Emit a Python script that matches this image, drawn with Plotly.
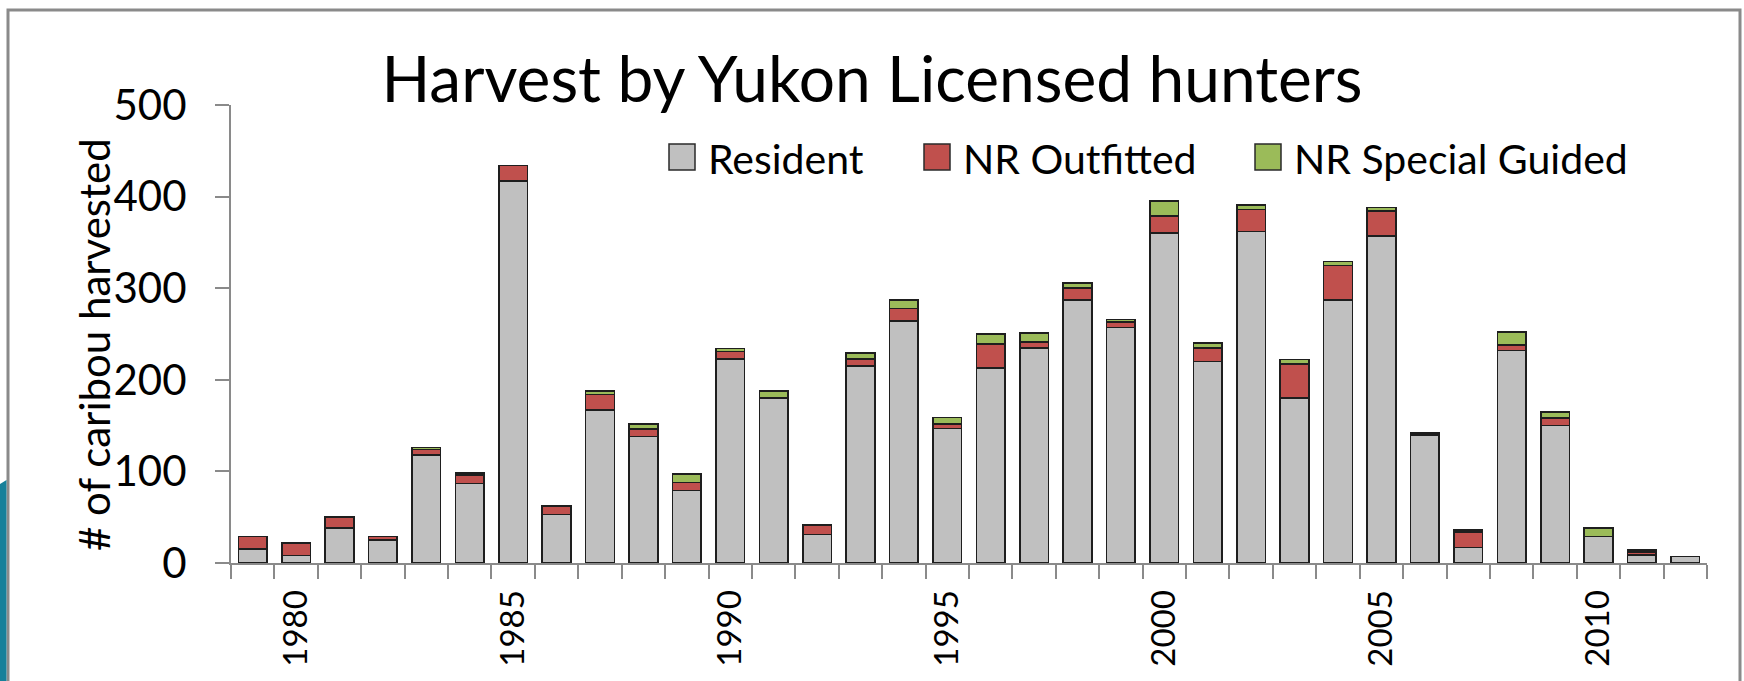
import plotly.graph_objects as go

years = list(range(1979, 2013))
resident = [15, 8, 38, 25, 118, 87, 417, 53, 167, 138, 79, 223, 180, 31, 215, 264, 147,
            213, 235, 287, 257, 360, 220, 362, 180, 287, 357, 140, 17, 232, 150, 29, 9, 7]
nr_outfitted = [14, 14, 12, 4, 6, 9, 17, 9, 17, 8, 9, 8, 0, 10, 8, 14, 5,
                26, 6, 13, 6, 19, 15, 24, 37, 38, 27, 0, 17, 6, 8, 0, 3, 0]
nr_special = [0, 0, 0, 0, 2, 2, 0, 0, 4, 6, 9, 3, 8, 1, 6, 9, 7,
              11, 10, 6, 3, 16, 5, 5, 5, 4, 4, 2, 2, 14, 7, 9, 2, 0]
series_names = ["Resident", "NR Outfitted", "NR Special Guided"]
colors = ["#C0C0C0", "#C0504D", "#9BBB59"]
x_tick_years = [1980, 1985, 1990, 1995, 2000, 2005, 2010]
y_ticks = [0, 100, 200, 300, 400, 500]

FONT = "Lato"
W, H = 1744, 681
L, R, T, B = 231, 37, 105, 118
PW, PH = W - L - R, H - T - B


def px(x):
    return (x - L) / PW


def py(y):
    return (H - B - y) / PH


fig = go.Figure()
for name, vals, col in zip(series_names, [resident, nr_outfitted, nr_special], colors):
    fig.add_trace(go.Bar(x=years, y=vals, name=name,
                         marker=dict(color=col, line=dict(color="#1e1e1e", width=1.6)),
                         showlegend=False))

# manual legend (large square keys like the original)
legend_x = [669, 924, 1255]
shapes = []
annotations = []
for name, col, lx in zip(series_names, colors, legend_x):
    shapes.append(dict(type="rect", xref="paper", yref="paper", x0=px(lx), x1=px(lx + 26),
                       y0=py(170), y1=py(144), fillcolor=col, line=dict(color="#2a2a2a", width=1.5)))
    annotations.append(dict(xref="paper", yref="paper", x=px(lx + 37), y=py(158), text=name,
                            showarrow=False, xanchor="left", yanchor="middle",
                            font=dict(family=FONT, size=41, color="#000")))

# outer chart border
shapes.append(dict(type="rect", xref="paper", yref="paper", x0=px(8), x1=px(1740), y0=py(720), y1=py(10),
                   line=dict(color="#8a8a8a", width=3), fillcolor="rgba(0,0,0,0)", layer="below"))
# teal slide decoration at bottom-left
shapes.append(dict(type="path", xref="paper", yref="paper",
                   path=f"M {px(0)},{py(484)} L {px(6.5)},{py(480)} L {px(6.5)},{py(681)} L {px(0)},{py(681)} Z",
                   fillcolor="#16809a", line=dict(width=0), layer="below"))

# y axis title
annotations.append(dict(xref="paper", yref="paper", x=px(94), y=py(345), text="# of caribou harvested",
                        textangle=-90, showarrow=False, xanchor="center", yanchor="middle",
                        font=dict(family=FONT, size=42, color="#000")))

fig.update_layout(
    width=W, height=H,
    margin=dict(l=L, r=R, t=T, b=B, autoexpand=False),
    paper_bgcolor="white", plot_bgcolor="white",
    barmode="stack", bargap=0.34,
    title=dict(text="Harvest by Yukon Licensed hunters", x=0.5, xref="container", xanchor="center",
               y=1 - 80 / H, yref="container", yanchor="middle",
               font=dict(family=FONT, size=64, color="#000")),
    font=dict(family=FONT, color="#000"),
    shapes=shapes, annotations=annotations,
)
fig.update_xaxes(range=[1978.5, 2012.5], tickvals=x_tick_years, ticktext=[str(v) for v in x_tick_years],
                 tickangle=-90, ticks="", showline=True, linecolor="#8a8a8a", linewidth=2,
                 showgrid=False, zeroline=False, ticklabelstandoff=12,
                 tickfont=dict(family=FONT, size=33, color="#000"),
                 minor=dict(tick0=1978.5, dtick=1, ticks="outside", ticklen=14, tickcolor="#8a8a8a",
                            tickwidth=2, showgrid=False))
fig.update_yaxes(range=[0, 500], tickvals=y_ticks, ticks="outside", ticklen=14, tickcolor="#8a8a8a",
                 tickwidth=2, showline=True, linecolor="#8a8a8a", linewidth=2, showgrid=False,
                 zeroline=False, ticklabelstandoff=20,
                 tickfont=dict(family=FONT, size=42, color="#000"))

fig.write_html("out.html", config={"displayModeBar": False},
               post_script="document.body.style.margin='0';document.body.style.overflow='hidden';")
